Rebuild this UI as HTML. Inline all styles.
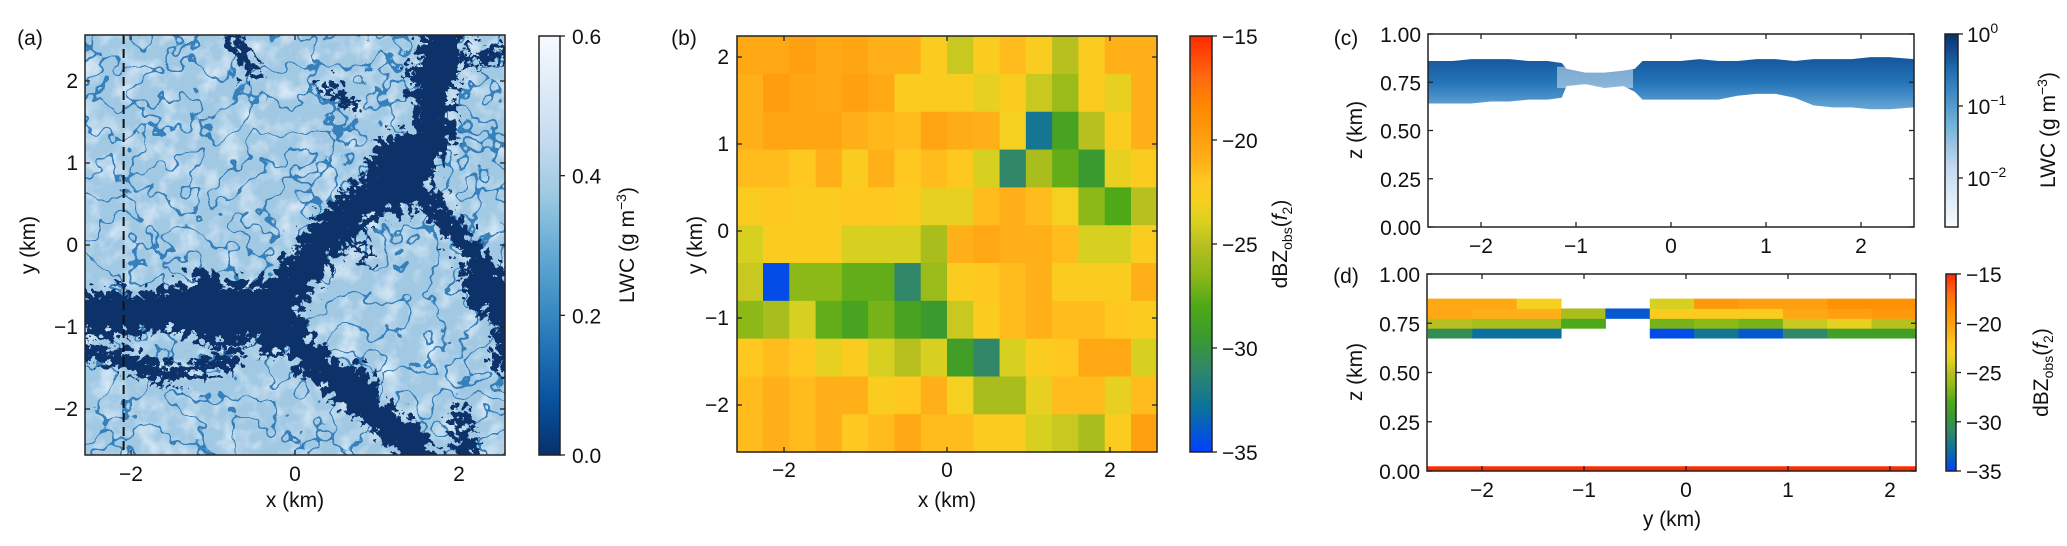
<!DOCTYPE html>
<html><head><meta charset="utf-8">
<style>
body{margin:0;background:#fff;}
svg{display:block;font-family:"Liberation Sans",Arial,sans-serif;}
text{fill:#111;}
</style></head>
<body>
<svg id="fig" width="2067" height="546" viewBox="0 0 2067 546" xmlns="http://www.w3.org/2000/svg">
<defs>
  <linearGradient id="blues" x1="0" y1="1" x2="0" y2="0">
    <stop offset="0" stop-color="#08306b"/><stop offset="0.125" stop-color="#08519c"/>
    <stop offset="0.25" stop-color="#2171b5"/><stop offset="0.375" stop-color="#4292c6"/>
    <stop offset="0.5" stop-color="#6baed6"/><stop offset="0.625" stop-color="#9ecae1"/>
    <stop offset="0.75" stop-color="#c6dbef"/><stop offset="0.875" stop-color="#deebf7"/>
    <stop offset="1" stop-color="#f7fbff"/>
  </linearGradient>
  <linearGradient id="bluesLog" x1="0" y1="1" x2="0" y2="0">
    <stop offset="0" stop-color="#f7fbff"/><stop offset="0.3" stop-color="#c6dbef"/>
    <stop offset="0.55" stop-color="#6baed6"/><stop offset="0.8" stop-color="#2171b5"/>
    <stop offset="1" stop-color="#08306b"/>
  </linearGradient>
  <linearGradient id="dbzGrad" x1="0" y1="1" x2="0" y2="0"></linearGradient>
  <linearGradient id="cloudGrad" gradientUnits="userSpaceOnUse" x1="0" y1="60" x2="0" y2="110">
    <stop offset="0" stop-color="#17599e"/><stop offset="0.45" stop-color="#2474b8"/><stop offset="1" stop-color="#6aa8d6"/>
  </linearGradient>
  <filter id="texture" x="0" y="0" width="1" height="1">
    <feTurbulence type="fractalNoise" baseFrequency="0.05" numOctaves="3" seed="4" result="n"/>
    <feColorMatrix in="n" type="matrix" values="0 0 0 0 0.78  0 0 0 0 0.87  0 0 0 0 0.95  2 0 0 0 -0.9" result="c"/>
    <feComposite in="c" in2="SourceGraphic" operator="in"/>
  </filter>
  <filter id="cracks" x="0" y="0" width="1" height="1">
    <feTurbulence type="fractalNoise" baseFrequency="0.03" numOctaves="3" seed="11" result="n"/>
    <feComponentTransfer in="n" result="t">
      <feFuncR type="discrete" tableValues="0 0 0 0 0 0 0 0 0 0 0 0 0 0 1 0 0 0 0 0 0 0 0 0 0 0 0 0 0 0"/>
      <feFuncG type="discrete" tableValues="0 0 0 0 0 0 0 0 0 0 0 0 0 0 1 0 0 0 0 0 0 0 0 0 0 0 0 0 0 0"/>
      <feFuncB type="discrete" tableValues="0 0 0 0 0 0 0 0 0 0 0 0 0 0 1 0 0 0 0 0 0 0 0 0 0 0 0 0 0 0"/>
      <feFuncA type="linear" slope="0" intercept="1"/>
    </feComponentTransfer>
    <feColorMatrix in="t" type="matrix" values="0 0 0 0 0.03  0 0 0 0 0.2  0 0 0 0 0.48  0.95 0 0 0 0" result="cr"/>
    <feComposite in="cr" in2="SourceGraphic" operator="in"/>
  </filter>
  <filter id="rough" x="-10%" y="-10%" width="120%" height="120%">
    <feTurbulence type="turbulence" baseFrequency="0.09" numOctaves="3" seed="3" result="t"/>
    <feDisplacementMap in="SourceGraphic" in2="t" scale="34" xChannelSelector="R" yChannelSelector="G"/>
  </filter>
  <clipPath id="clipA"><rect x="85" y="35" width="420" height="420"/></clipPath>
  <clipPath id="clipC"><rect x="1428" y="34" width="486" height="193"/></clipPath>
  <clipPath id="clipD"><rect x="1427" y="274" width="489" height="197"/></clipPath>
</defs>
<g id="layer"></g>
</svg>
<script>
// ---------- data ----------
const bValues = [
 [-20.5,-20.5,-20,-20.5,-20.3,-21,-21,-22.5,-24.5,-22.5,-21.5,-22.5,-25,-22.5,-21,-21],
 [-21,-19.8,-20.3,-20.5,-20,-20.5,-22.5,-22.5,-22.5,-23.5,-22.5,-24.5,-26,-22.5,-23.5,-21],
 [-21,-20.3,-20.3,-20.3,-21,-21.3,-21.5,-20.3,-20.8,-21,-23,-32.5,-28.5,-25,-22.5,-21],
 [-21.5,-21.5,-22,-21,-22.5,-21,-22,-21.5,-22,-24,-31,-25.5,-27.5,-29.5,-23.5,-22.5],
 [-22.5,-22,-22.5,-22.5,-22,-22,-22.5,-23.5,-23.5,-21.5,-21,-21.5,-23,-26.5,-28,-25],
 [-24,-22.5,-22.5,-22.5,-24,-24,-24,-25.5,-21,-20.5,-21,-21,-21.5,-24,-24,-22.5],
 [-24.5,-34.5,-26.5,-26.5,-27.5,-27.5,-31,-26,-22.5,-22,-21.5,-21,-22.5,-22.5,-22.5,-21],
 [-26.5,-25.5,-24,-27.5,-28.5,-27,-28.5,-29.5,-24.5,-22.5,-21.5,-21,-21.5,-21.5,-22,-22.5],
 [-22,-21.5,-22,-23.5,-22.5,-24,-25,-24,-29,-31,-24,-22.5,-22,-20.5,-20.5,-24],
 [-21.5,-21,-21.5,-21,-21,-22.5,-22,-21,-23,-25.5,-25.5,-23.5,-21.5,-21.5,-23.5,-21.5],
 [-21.5,-21,-21.5,-21,-22,-21.5,-20.5,-21.5,-21.5,-22.5,-22.5,-24,-24.5,-25.5,-22.5,-20]
];
const bX0 = -2.58, bDx = 0.3225, bY0 = 2.24, bDy = 0.4347;
const cPos  = [-2.56,-2.3,-2.1,-1.9,-1.7,-1.5,-1.3,-1.15,-1.1,-0.9,-0.7,-0.5,-0.38,-0.3,-0.1,0.1,0.3,0.5,0.7,0.9,1.1,1.3,1.5,1.7,1.9,2.1,2.3,2.56];
const cTop  = [0.86,0.86,0.87,0.87,0.87,0.86,0.86,0.85,0.82,0.80,0.80,0.81,0.82,0.86,0.86,0.86,0.87,0.86,0.86,0.87,0.87,0.86,0.87,0.87,0.87,0.88,0.88,0.87];
const cBase = [0.64,0.64,0.64,0.65,0.65,0.66,0.66,0.67,0.73,0.74,0.72,0.73,0.70,0.66,0.66,0.66,0.66,0.66,0.68,0.69,0.69,0.67,0.63,0.62,0.62,0.61,0.61,0.62];
const dLevels = [0.675,0.725,0.775,0.825];
const dValues = [
 [-30.5,-33,-33,null,null,-34.5,-32.5,-34,-31,-29,-29],
 [-25,-25.5,-25.5,-28,null,-27,-26.5,-27,-24.5,-23.5,-25],
 [-20.5,-21,-21,-25.5,-34,-22.5,-22.5,-22.5,-20.5,-20,-19.5],
 [-20.5,-20.5,-23,null,null,-24,-19.5,-20,-20,-19,-19]
];
const dY0 = -2.53, dDy = 0.435, dDz = 0.05;
const dSurface = -15;
const aTicks = [-2,0,2], aYTicks=[-2,-1,0,1,2];
const lwcTicks = [0,0.2,0.4,0.6];
const dbzTicks = [-35,-30,-25,-20,-15];
const zTicks = [0,0.25,0.5,0.75,1.0];
const yTicksCD = [-2,-1,0,1,2];
const aChannels = [
 [[-2.7,-0.75],[-2.0,-0.75],[-1.3,-0.62],[-0.6,-0.65],[-0.2,-0.5],[0.3,0.2],[0.9,0.75],[1.3,1.0],[1.6,1.4],[1.6,2.0],[1.75,2.7]],
 [[-0.3,-0.8],[0.2,-1.4],[0.7,-1.8],[1.2,-2.2],[1.7,-2.7]],
 [[1.3,0.9],[2.0,0.1],[2.4,-0.4],[2.5,-1.4]],
 [[-2.6,-1.2],[-1.6,-1.5],[-0.8,-1.3]],
 [[1.3,2.2],[2.0,2.35],[2.7,2.5]],
 [[-0.85,2.7],[-0.6,2.2]],
 [[0.3,2.0],[0.6,1.8]],
 [[1.9,-2.0],[2.1,-2.7]],
 [[-1.2,-0.4],[-0.9,-1.0]],
 [[0.6,0.4],[0.8,-0.1]]
];
const aWidths = [0.5,0.38,0.28,0.22,0.16,0.16,0.16,0.22,0.35,0.1];
// broad low-LWC blobs: [x, y, rx, ry] in km
const aBlobs = [[-1.0,-0.75,0.7,0.35],[-0.35,-0.85,0.3,0.4],[1.15,0.95,0.35,0.5],[0.55,-1.6,0.35,0.25],[-2.3,-0.75,0.3,0.3],[2.2,-0.4,0.25,0.35]];
const dashX = -2.09;

// ---------- helpers ----------
const NS="http://www.w3.org/2000/svg";
const FS=21;
const layer=document.getElementById('layer');
function mk(tag,attrs,parent){const e=document.createElementNS(NS,tag);for(const k in attrs)e.setAttribute(k,attrs[k]);(parent||layer).appendChild(e);return e;}
function txt(s,x,y,anchor,size,parent,rot){const t=mk('text',{x:x,y:y,'text-anchor':anchor||'middle','font-size':size||FS},parent);if(rot)t.setAttribute('transform','rotate(-90 '+x+' '+y+')');t.textContent=s;return t;}
const stops=[[-35,[0,64,255]],[-33,[10,112,160]],[-31,[48,136,104]],[-29.5,[58,154,48]],[-28,[78,168,24]],[-26.5,[140,184,24]],[-25,[184,192,32]],[-24,[216,208,32]],[-23,[245,208,32]],[-22,[255,200,32]],[-21,[255,176,24]],[-20,[255,160,16]],[-18.5,[255,138,0]],[-17,[255,106,16]],[-15,[255,42,0]]];
function dbzColor(v){if(v<=stops[0][0])return 'rgb('+stops[0][1]+')';for(let i=1;i<stops.length;i++){if(v<=stops[i][0]){const a=stops[i-1],b=stops[i];const f=(v-a[0])/(b[0]-a[0]);const c=a[1].map((q,j)=>Math.round(q+f*(b[1][j]-q)));return 'rgb('+c+')';}}return 'rgb('+stops[stops.length-1][1]+')';}
const g=document.getElementById('dbzGrad');
stops.forEach(s=>{mk('stop',{offset:(s[0]+35)/20,'stop-color':'rgb('+s[1]+')'},g);});
function frame(x,y,w,h,parent){return mk('rect',{x:x,y:y,width:w,height:h,fill:'none',stroke:'#222','stroke-width':1.5},parent);}
function tickX(px,y0,y1,parent){mk('line',{x1:px,y1:y0,x2:px,y2:y0-5,stroke:'#222','stroke-width':1.3},parent);mk('line',{x1:px,y1:y1,x2:px,y2:y1+5,stroke:'#222','stroke-width':1.3},parent);}
function tickY(py,x0,x1,parent){mk('line',{x1:x0,y1:py,x2:x0+5,y2:py,stroke:'#222','stroke-width':1.3},parent);mk('line',{x1:x1,y1:py,x2:x1-5,y2:py,stroke:'#222','stroke-width':1.3},parent);}
function fmtMinus(v){return (v<0?'\u2212':'')+Math.abs(v);}

// ---------- panel (a) ----------
const pa=mk('g',{});


const Xa=x=>295+82*x, Ya=y=>245-82*y;
const aImg=mk('g',{'clip-path':'url(#clipA)'},pa);


mk('rect',{x:85,y:35,width:420,height:420,fill:'#a2c9e4'},aImg);
mk('rect',{x:85,y:35,width:420,height:420,fill:'#000',filter:'url(#texture)'},aImg);
mk('rect',{x:85,y:35,width:420,height:420,fill:'#000',filter:'url(#cracks)'},aImg);
const chG=mk('g',{filter:'url(#rough)'},aImg);
aChannels.forEach((pts,i)=>{
  const p=mk('polyline',{points:pts.map(q=>Xa(q[0])+','+Ya(q[1])).join(' '),fill:'none',stroke:'#08306b','stroke-width':aWidths[i]*82,'stroke-linecap':'round','stroke-linejoin':'round'},chG);
  
  
});
aBlobs.forEach(b=>{
  const e=mk('ellipse',{cx:Xa(b[0]),cy:Ya(b[1]),rx:b[2]*82,ry:b[3]*82,fill:'#08306b'},chG);
  
  
});
const dl=mk('line',{x1:Xa(dashX),y1:35,x2:Xa(dashX),y2:455,stroke:'#111','stroke-width':2,'stroke-dasharray':'9,5'},pa);


frame(85,35,420,420,pa);
aTicks.forEach(v=>{tickX(Xa(v),455,35,pa);txt(fmtMinus(v),Xa(v),481,'middle',FS,pa);});
aYTicks.forEach(v=>{tickY(Ya(v),85,505,pa);txt(fmtMinus(v),78,Ya(v)+7,'end',FS,pa);});
let t=txt('x (km)',295,507,'middle',FS,pa);
t=txt('y (km)',35,245,'middle',FS,pa,true);
t=txt('(a)',30,45,'middle',FS,pa);
const cba=mk('g',{},pa);


mk('rect',{x:539,y:36,width:21,height:419,fill:'url(#blues)'},cba);
frame(539,36,21,419,cba);
lwcTicks.forEach(v=>{const py=455-v/0.6*419;mk('line',{x1:560,y1:py,x2:565,y2:py,stroke:'#222','stroke-width':1.3},cba);txt(v.toFixed(1),572,py+8,'start',FS,cba);});
t=mk('text',{x:634,y:245,'text-anchor':'middle','font-size':FS,transform:'rotate(-90 634 245)'},cba);
t.innerHTML='LWC (g m<tspan dy="-8" font-size="14">\u22123</tspan><tspan dy="8">)</tspan>';



// ---------- panel (b) ----------
const pb=mk('g',{});


const Xb=x=>947+81.5*x, Yb=y=>231-87*y;
bValues.forEach((row,r)=>row.forEach((v,c)=>{
  const x0=Xb(bX0+c*bDx), x1=Xb(bX0+(c+1)*bDx), y0=Yb(bY0-r*bDy), y1=Yb(bY0-(r+1)*bDy);
  const cell=mk('rect',{x:x0,y:y0,width:x1-x0+0.5,height:y1-y0+0.5,fill:dbzColor(v)},pb);
  
  
}));
frame(737,36,420,416,pb);
aTicks.forEach(v=>{tickX(Xb(v),452,36,pb);txt(fmtMinus(v),Xb(v),477,'middle',FS,pb);});
aYTicks.forEach(v=>{tickY(Yb(v),737,1157,pb);txt(fmtMinus(v),729,Yb(v)+7,'end',FS,pb);});
t=txt('x (km)',947,507,'middle',FS,pb);
t=txt('y (km)',702,245,'middle',FS,pb,true);
t=txt('(b)',684,45,'middle',FS,pb);
function dbzBar(x,y,w,h,parent,name,labelX){
  const cb=mk('g',{},parent);
  
  
  mk('rect',{x:x,y:y,width:w,height:h,fill:'url(#dbzGrad)'},cb);
  frame(x,y,w,h,cb);
  dbzTicks.forEach(v=>{const py=y+h-(v+35)/20*h;mk('line',{x1:x+w,y1:py,x2:x+w+5,y2:py,stroke:'#222','stroke-width':1.3},cb);txt(fmtMinus(v),x+w+10,py+8,'start',FS,cb);});
  const cy=y+h/2;
  const l=mk('text',{x:labelX,y:cy,'text-anchor':'middle','font-size':FS,transform:'rotate(-90 '+labelX+' '+cy+')'},cb);
  l.innerHTML='dBZ<tspan dy="5" font-size="14">obs</tspan><tspan dy="-5">(</tspan><tspan font-style="italic">f</tspan><tspan dy="5" font-size="14">2</tspan><tspan dy="-5">)</tspan>';
  
  
}
dbzBar(1190,36,22,416,pb,'dbz-colorbar-b',1287);

// ---------- panel (c) ----------
const pc=mk('g',{});


const Xc=y=>1671+95*y, Zc=z=>227-193*z;
const cg=mk('g',{'clip-path':'url(#clipC)'},pc);
const ptsTop=cPos.map((p,i)=>Xc(p)+','+Zc(cTop[i]));
const ptsBase=cPos.map((p,i)=>Xc(p)+','+Zc(cBase[i])).reverse();
const cloud=mk('polygon',{points:ptsTop.concat(ptsBase).join(' '),fill:'url(#cloudGrad)'},cg);


cPos.forEach((p,i)=>{
  if(cBase[i]<=0.7)return;
  const x0=Xc(p-0.1), x1=Xc(p+0.1);
  const r=mk('rect',{x:x0,y:Zc(cTop[i])-2,width:x1-x0,height:Zc(cBase[i])-Zc(cTop[i])+4,fill:'#fff',opacity:0.45},cg);
  
  
});
frame(1428,34,486,193,pc);
yTicksCD.forEach(v=>{tickX(Xc(v),227,34,pc);txt(fmtMinus(v),Xc(v),253,'middle',FS,pc);});
zTicks.forEach(v=>{tickY(Zc(v),1428,1914,pc);txt(v.toFixed(2),1421,Zc(v)+8,'end',FS,pc);});
t=txt('z (km)',1362,130,'middle',FS,pc,true);
t=txt('(c)',1346,45,'middle',FS,pc);
const cbc=mk('g',{},pc);


mk('rect',{x:1945,y:34,width:13,height:193,fill:'url(#bluesLog)'},cbc);
frame(1945,34,13,193,cbc);
const logTicks=[0,-1,-2];
logTicks.forEach(e=>{const py=34+(-e)*72;mk('line',{x1:1958,y1:py,x2:1963,y2:py,stroke:'#222','stroke-width':1.3},cbc);
  const tt=mk('text',{x:1967,y:py+8,'font-size':FS},cbc);tt.innerHTML='10<tspan dy="-9" font-size="14">'+(e<0?'\u2212'+(-e):'0')+'</tspan>';});
t=mk('text',{x:2055,y:130,'text-anchor':'middle','font-size':FS,transform:'rotate(-90 2055 130)'},cbc);
t.innerHTML='LWC (g m<tspan dy="-8" font-size="14">\u22123</tspan><tspan dy="8">)</tspan>';



// ---------- panel (d) ----------
const pd=mk('g',{});


const Xd=y=>1686+102*y, Zd=z=>471-197*z;
const dg=mk('g',{'clip-path':'url(#clipD)'},pd);
dValues.forEach((row,r)=>row.forEach((v,c)=>{
  if(v===null)return;
  const x0=Xd(dY0+c*dDy), x1=Xd(dY0+(c+1)*dDy);
  const y0=Zd(dLevels[r]+dDz), y1=Zd(dLevels[r]);
  const cell=mk('rect',{x:x0,y:y0,width:x1-x0+0.5,height:y1-y0+0.5,fill:dbzColor(v)},dg);
  
  
}));
const sb=mk('rect',{x:1427,y:Zd(0.024),width:489,height:Zd(0)-Zd(0.024),fill:dbzColor(dSurface)},dg);


frame(1427,274,489,197,pd);
yTicksCD.forEach(v=>{tickX(Xd(v),471,274,pd);txt(fmtMinus(v),Xd(v),497,'middle',FS,pd);});
zTicks.forEach(v=>{tickY(Zd(v),1427,1916,pd);txt(v.toFixed(2),1420,Zd(v)+8,'end',FS,pd);});
t=txt('y (km)',1672,526,'middle',FS,pd);
t=txt('z (km)',1362,372,'middle',FS,pd,true);
t=txt('(d)',1346,283,'middle',FS,pd);
dbzBar(1946,274,10,197,pd,'dbz-colorbar-d',2048);
</script>
</body></html>
